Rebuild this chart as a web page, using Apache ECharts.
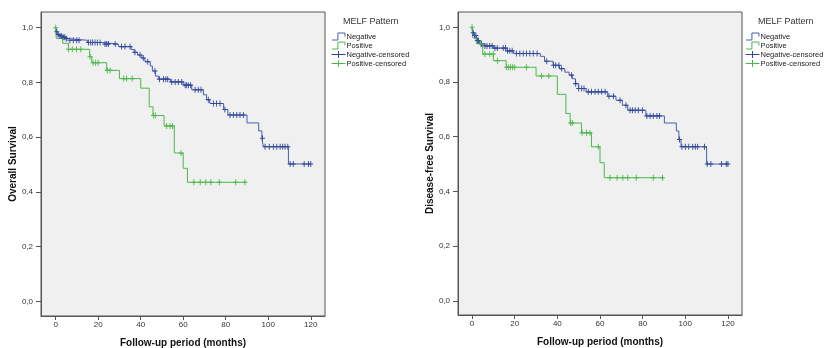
<!DOCTYPE html>
<html>
<head>
<meta charset="utf-8">
<script src="https://cdn.jsdelivr.net/npm/echarts@6/dist/echarts.min.js"></script>
<style>
html,body{margin:0;padding:0;background:#fff;}
#chart{width:826px;height:348px;}
</style>
</head>
<body>
<div id="chart"></div>
<script>
// ---------- data ----------
const xTicks = [0, 20, 40, 60, 80, 100, 120];
const yTicks = [0, 0.2, 0.4, 0.6, 0.8, 1.0];
const groups = ['Negative', 'Positive', 'Negative-censored', 'Positive-censored'];

// Overall survival – step times (months) and survival after each step
const osNegT = [0, 0.5, 1, 2, 3, 5, 6, 15, 22, 29.5, 35.5, 37, 38.5, 40.5, 42, 44.5, 45.5, 47, 48.5, 54, 60, 64, 69.5, 71, 72.5, 79, 81, 90, 95.5, 97, 97.7, 109.5, 120];
const osNegS = [1.0, 0.985, 0.975, 0.97, 0.965, 0.96, 0.954, 0.946, 0.940, 0.931, 0.92, 0.91, 0.90, 0.889, 0.876, 0.86, 0.842, 0.823, 0.812, 0.802, 0.790, 0.773, 0.755, 0.737, 0.723, 0.701, 0.681, 0.652, 0.623, 0.596, 0.565, 0.502, 0.502];
const osPosT = [0, 0.3, 3.3, 6, 16, 17, 24, 30, 40, 44, 45.8, 51, 55.8, 60, 62, 90];
const osPosS = [1.0, 0.961, 0.943, 0.921, 0.894, 0.872, 0.844, 0.814, 0.779, 0.711, 0.679, 0.641, 0.542, 0.486, 0.435, 0.435];
const osNegC = [0.5, 1.2, 2, 2.8, 3.5, 4.3, 5, 6.7, 8.3, 9.9, 11, 15.4, 16.5, 17.4, 18.5, 19.6, 20.9, 23.2, 24, 24.8, 28, 31, 32.6, 35, 37.3, 39.7, 41.2, 43.3, 46.7, 48.8, 50.7, 51.8, 52.7, 54.6, 56.2, 57.7, 59.3, 60.9, 61.6, 62.4, 63.5, 65.6, 67.1, 68.4, 71.8, 74.2, 75.7, 77.3, 79.6, 82, 83.6, 85.2, 86.7, 88.3, 97.3, 98.5, 100.5, 102.4, 104, 105.6, 106.8, 107.9, 109.2, 110.3, 111.8, 116.9, 118.9, 120];
const osPosC = [0, 6, 7.8, 9.8, 11.8, 16.2, 17.6, 18.8, 20, 24.3, 25.6, 32, 33.4, 36, 46, 46.9, 52.2, 53.8, 55, 59, 65, 68, 70.6, 73, 77, 84.7, 89];

// Disease-free survival
const dfsNegT = [0, 0.5, 1, 2, 3.5, 6, 10, 16.5, 19.5, 32, 34, 38, 41, 43.5, 45.5, 47, 48.5, 50, 53.5, 63.6, 67.5, 70.5, 73, 81.5, 90.2, 95.8, 97, 98, 110, 120];
const dfsNegS = [1.0, 0.98, 0.97, 0.952, 0.94, 0.932, 0.924, 0.914, 0.904, 0.894, 0.876, 0.861, 0.849, 0.836, 0.825, 0.812, 0.794, 0.776, 0.764, 0.748, 0.733, 0.715, 0.697, 0.676, 0.65, 0.621, 0.59, 0.563, 0.50, 0.50];
const dfsPosT = [0, 0.3, 2, 5, 10, 16, 30, 40, 44, 46, 51.3, 56, 60, 62, 90];
const dfsPosS = [1.0, 0.962, 0.94, 0.902, 0.878, 0.854, 0.822, 0.755, 0.685, 0.650, 0.614, 0.563, 0.505, 0.450, 0.450];
const dfsNegC = [0.5, 1.2, 1.8, 2.5, 3, 4.4, 6, 7, 8.3, 9.4, 10.7, 11.8, 14.6, 15.7, 16.6, 17.7, 18.8, 20.8, 22.4, 24, 25.5, 27.1, 28.7, 30.5, 35, 38.2, 39.2, 40.7, 42, 46.7, 48.6, 50, 51.4, 52.5, 54.5, 56, 57.7, 59.2, 60.8, 62.4, 64.2, 66.3, 69.4, 72.2, 74.1, 75.2, 76.5, 78, 79.9, 82, 83.5, 85, 86.7, 87.9, 97.3, 98.4, 100, 101.6, 103.5, 104.7, 105.8, 109, 110.3, 112, 117, 119.2, 120];
const dfsPosC = [0, 4, 6, 8.3, 9.9, 11.9, 16.1, 17, 18, 19, 20, 25.5, 32.6, 36, 46.2, 47, 51.6, 53.7, 55.3, 59.2, 64.7, 68, 70.7, 73, 77, 85, 89.3];

// ---------- helpers ----------
const BLUE = '#4a5eab', BLUE_DARK = '#33489c', GREEN = '#4cb84c';
const FONT = '"Liberation Sans", Arial, sans-serif';
function pairs(T, S) { return T.map((t, i) => [t, S[i]]); }
function survAt(T, S, t) { let v = S[0]; for (let i = 0; i < T.length; i++) { if (T[i] <= t) v = S[i]; } return v; }
function cens(T, S, C) { return C.map(t => [t, survAt(T, S, t)]); }
const plusSym = 'path://M0,5 L10,5 M5,0 L5,10';

function xAxisCfg(g, min, max) {
  return {
    type: 'value', gridIndex: g, min: min, max: max,
    name: 'Follow-up period (months)', nameLocation: 'middle', nameGap: 22,
    nameTextStyle: { fontSize: 10, fontWeight: 'bold', color: '#111', fontFamily: FONT },
    axisLine: { show: true, onZero: false, lineStyle: { color: '#555', width: 1 } },
    axisTick: { show: true, customValues: xTicks, length: 4, lineStyle: { color: '#555' } },
    axisLabel: { customValues: xTicks, margin: 5, fontSize: 8, color: '#333', fontFamily: FONT },
    splitLine: { show: false }
  };
}
function yAxisCfg(g, min, max, name) {
  return {
    type: 'value', gridIndex: g, min: min, max: max,
    name: name, nameLocation: 'middle', nameGap: 19,
    nameTextStyle: { fontSize: 10, fontWeight: 'bold', color: '#111', fontFamily: FONT },
    axisLine: { show: true, onZero: false, lineStyle: { color: '#555', width: 1 } },
    axisTick: { show: true, customValues: yTicks, length: 5, lineStyle: { color: '#555' } },
    axisLabel: { customValues: yTicks, margin: 8, fontSize: 8, color: '#333', fontFamily: FONT,
      formatter: v => v.toFixed(1).replace('.', ',') },
    splitLine: { show: false }
  };
}
function stepSeries(name, g, data, color) {
  return { name: name, type: 'line', xAxisIndex: g, yAxisIndex: g, step: 'end', data: data,
    showSymbol: false, symbol: 'none', lineStyle: { color: color, width: 1 }, itemStyle: { color: color },
    silent: true, z: 2 };
}
function censSeries(name, g, data, color) {
  return { name: name, type: 'scatter', xAxisIndex: g, yAxisIndex: g, data: data,
    symbol: plusSym, symbolSize: [5, 6],
    itemStyle: { color: 'rgba(0,0,0,0)', borderColor: color, borderWidth: 1, opacity: 1 },
    silent: true, z: 3 };
}
const stepIcon = 'path://M0,7 L5,7 L5,1 L11,1 L11,4';
const plusIcon = 'path://M0,4 L12,4 M6,1 L6,7';
function legendCfg(left) {
  const cols = [BLUE, GREEN, BLUE_DARK, GREEN];
  return {
    orient: 'vertical', left: left, top: 32, itemWidth: 14, itemHeight: 7, itemGap: 0, padding: 0,
    selectedMode: false,
    textStyle: { fontSize: 7.5, color: '#222', fontFamily: FONT, lineHeight: 9, padding: [0, 0, 0, -4] },
    data: groups.map((n, i) => ({
      name: n, icon: i < 2 ? stepIcon : plusIcon,
      itemStyle: { color: 'rgba(0,0,0,0)', borderColor: cols[i], borderWidth: 1 }
    }))
  };
}
const gridBase = { show: true, backgroundColor: '#f0f0f0', borderColor: '#555', borderWidth: 1,
  containLabel: false, outerBoundsMode: 'none' };

const option = {
  animation: false,
  backgroundColor: '#ffffff',
  textStyle: { fontFamily: FONT },
  title: [
    { text: 'MELF Pattern', left: 343, top: 17, padding: 0, textStyle: { fontSize: 9, fontWeight: 'normal', color: '#333', fontFamily: FONT } },
    { text: 'MELF Pattern', left: 758, top: 17, padding: 0, textStyle: { fontSize: 9, fontWeight: 'normal', color: '#333', fontFamily: FONT } }
  ],
  legend: [legendCfg(331), legendCfg(745)],
  grid: [
    Object.assign({ left: 41, top: 12, width: 284, height: 304 }, gridBase),
    Object.assign({ left: 458, top: 12, width: 284, height: 303 }, gridBase)
  ],
  xAxis: [xAxisCfg(0, -6.9, 126.7), xAxisCfg(1, -6.6, 126.6)],
  yAxis: [yAxisCfg(0, -0.0537, 1.0574, 'Overall Survival'), yAxisCfg(1, -0.052, 1.056, 'Disease-free Survival')],
  series: [
    stepSeries('Negative', 0, pairs(osNegT, osNegS), BLUE),
    stepSeries('Positive', 0, pairs(osPosT, osPosS), GREEN),
    censSeries('Negative-censored', 0, cens(osNegT, osNegS, osNegC), BLUE_DARK),
    censSeries('Positive-censored', 0, cens(osPosT, osPosS, osPosC), GREEN),
    stepSeries('Negative', 1, pairs(dfsNegT, dfsNegS), BLUE),
    stepSeries('Positive', 1, pairs(dfsPosT, dfsPosS), GREEN),
    censSeries('Negative-censored', 1, cens(dfsNegT, dfsNegS, dfsNegC), BLUE_DARK),
    censSeries('Positive-censored', 1, cens(dfsPosT, dfsPosS, dfsPosC), GREEN)
  ]
};
const chart = echarts.init(document.getElementById('chart'), null, { renderer: 'canvas' });
chart.setOption(option);
</script>
</body>
</html>
